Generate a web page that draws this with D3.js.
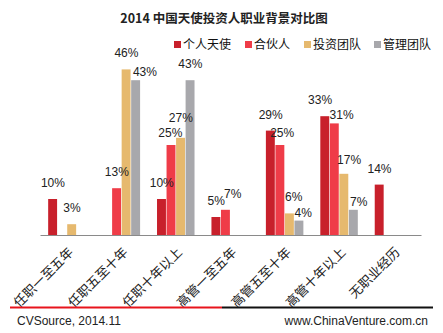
<!DOCTYPE html>
<html>
<head>
<meta charset="utf-8">
<script src="https://cdn.jsdelivr.net/npm/d3@7"></script>
<style>
  html, body { margin: 0; padding: 0; background: #fff; }
  svg { display: block; }
</style>
</head>
<body>
<svg id="chart" width="443" height="333"></svg>
<script>
// Career background of angel investors, 2014 (share of each investor type)
const categories = ["任职一至五年", "任职五至十年", "任职十年以上", "高管一至五年", "高管五至十年", "高管十年以上", "无职业经历"];
const seriesNames = ["个人天使", "合伙人", "投资团队", "管理团队"];
const angelValues   = [10, null, 10, 5, 29, 33, 14];
const partnerValues = [null, 13, 25, 7, 25, 31, null];
const teamValues    = [3, 46, 27, null, 6, 17, null];
const mgmtValues    = [null, 43, 43, null, 4, 7, null];
const seriesValues = [angelValues, partnerValues, teamValues, mgmtValues];
const colors = ["#c8202b", "#ef3c48", "#e6b96e", "#a8a8ac"];

// label nudges (dx, dy) where neighbouring value labels would collide
const labelNudge = {
  "1-3": [9, 8], "2-1": [-1, 4], "2-2": [0, -4],
  "3-1": [7, 0], "4-1": [2, 4], "4-2": [4, 0], "4-3": [4, 8],
  "5-0": [-5, 0], "5-1": [7, 8], "5-2": [5, 2], "5-3": [5, 8]
};

const svg = d3.select("#chart");
const margin = { left: 40, right: 22, top: 55, axisY: 235 };

const x0 = d3.scaleBand().domain(categories).range([margin.left, 443 - margin.right])
  .paddingInner(0.3).paddingOuter(0.15);
const x1 = d3.scaleBand().domain(d3.range(seriesNames.length)).range([0, x0.bandwidth()]);
const y = d3.scaleLinear().domain([0, 50]).range([margin.axisY, margin.top]);

// title
svg.append("text").attr("x", 224).attr("y", 23).attr("text-anchor", "middle")
  .style("font-family", "'Noto Sans CJK SC', 'Noto Sans', sans-serif")
  .style("font-weight", "bold").style("font-size", "12.5px").attr("fill", "#222")
  .text("2014 中国天使投资人职业背景对比图");

// legend
const legendX = [174, 245, 304, 374];
const legend = svg.append("g").selectAll("g").data(seriesNames).join("g")
  .attr("transform", (d, i) => `translate(${legendX[i]},40)`);
legend.append("rect").attr("width", 7).attr("height", 7).attr("y", 1)
  .attr("fill", (d, i) => colors[i]);
legend.append("text").attr("x", 9).attr("y", 9)
  .style("font-family", "'Noto Sans CJK SC', sans-serif").style("font-size", "12px")
  .attr("fill", "#111").text(d => d);

// bars
const bars = [];
categories.forEach((c, ci) => {
  seriesValues.forEach((vals, si) => {
    if (vals[ci] != null) bars.push({ c, ci, si, v: vals[ci] });
  });
});

const g = svg.append("g");
g.selectAll("rect").data(bars).join("rect")
  .attr("x", d => x0(d.c) + x1(d.si))
  .attr("y", d => y(d.v))
  .attr("width", x1.bandwidth() - 0.6)
  .attr("height", d => y(0) - y(d.v))
  .attr("fill", d => colors[d.si]);

// value labels
g.selectAll("text.val").data(bars).join("text").attr("class", "val")
  .attr("x", d => x0(d.c) + x1(d.si) + x1.bandwidth() / 2 + (labelNudge[d.ci + "-" + d.si] || [0, 0])[0])
  .attr("y", d => y(d.v) - 12 + (labelNudge[d.ci + "-" + d.si] || [0, 0])[1])
  .attr("text-anchor", "middle")
  .style("font-family", "'Liberation Sans', Arial, sans-serif").style("font-size", "12px")
  .attr("fill", "#222").text(d => d.v + "%");

// x axis
const xAxis = svg.append("g").attr("transform", `translate(0,${margin.axisY})`)
  .call(d3.axisBottom(x0).tickSize(0).tickSizeOuter(0).tickPadding(0));
xAxis.select(".domain").attr("stroke", "#8a8a8a").attr("stroke-width", 1.2);
xAxis.selectAll("text")
  .style("font-family", "'Noto Sans CJK SC', sans-serif").style("font-size", "13px")
  .attr("fill", "#222")
  .attr("text-anchor", "end")
  .attr("dy", "0")
  .attr("transform", "translate(7,18) rotate(-45)");

// footer rule and source lines
svg.append("line").attr("x1", 10).attr("x2", 222).attr("y1", 307.5).attr("y2", 307.5)
  .attr("stroke", "#e8141c").attr("stroke-width", 2);
svg.append("line").attr("x1", 222).attr("x2", 433).attr("y1", 307.5).attr("y2", 307.5)
  .attr("stroke", "#111").attr("stroke-width", 2);
svg.append("text").attr("x", 17).attr("y", 325)
  .style("font-family", "'Liberation Sans', Arial, sans-serif").style("font-size", "12px")
  .attr("fill", "#222").text("CVSource, 2014.11");
svg.append("text").attr("x", 428).attr("y", 325).attr("text-anchor", "end")
  .style("font-family", "'Liberation Sans', Arial, sans-serif").style("font-size", "12px")
  .attr("fill", "#222").text("www.ChinaVenture.com.cn");
</script>
</body>
</html>
